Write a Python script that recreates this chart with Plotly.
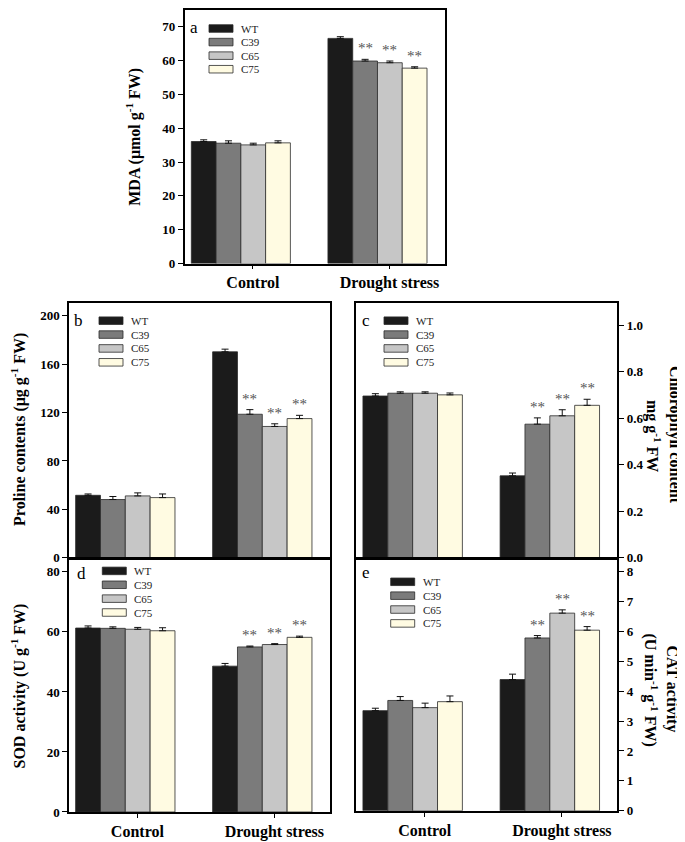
import plotly.graph_objects as go

# ---------------- data ----------------
groups = ["Control", "Drought stress"]
lines = ["WT", "C39", "C65", "C75"]
colors = ["#1b1b1b", "#7b7b7b", "#c6c6c6", "#fffbe2"]

mda_control = [36.1, 35.6, 35.1, 35.7]
mda_control_err = [0.5, 0.7, 0.5, 0.6]
mda_drought = [66.6, 59.9, 59.4, 57.8]
mda_drought_err = [0.5, 0.5, 0.5, 0.4]

proline_control = [51.6, 48.1, 51.1, 49.7]
proline_control_err = [1.1, 2.5, 2.5, 3.0]
proline_drought = [170.2, 118.6, 108.5, 115.0]
proline_drought_err = [2.2, 3.8, 2.2, 2.7]

chl_control = [0.695, 0.707, 0.707, 0.700]
chl_control_err = [0.010, 0.006, 0.006, 0.008]
chl_drought = [0.352, 0.574, 0.610, 0.655]
chl_drought_err = [0.012, 0.027, 0.026, 0.026]

sod_control = [61.3, 61.2, 60.9, 60.4]
sod_control_err = [0.7, 0.5, 0.6, 1.0]
sod_drought = [48.6, 55.0, 55.8, 58.2]
sod_drought_err = [0.9, 0.3, 0.3, 0.4]

cat_control = [3.35, 3.69, 3.45, 3.65]
cat_control_err = [0.08, 0.13, 0.15, 0.19]
cat_drought = [4.39, 5.78, 6.61, 6.04]
cat_drought_err = [0.18, 0.08, 0.11, 0.12]

# ---------------- layout helpers ----------------
W, H = 685, 842
FONT = "Liberation Serif, Times New Roman, serif"


def px(x):
    return x / W


def py(y):
    return 1 - y / H


group_pos = [0, 1]
BARGAP = 0.275
bar_w = (1 - BARGAP) / 4

panels = [
    dict(letter="a", ctrl=mda_control, ctrl_err=mda_control_err, dr=mda_drought, dr_err=mda_drought_err,
         xdom=(176.7, 436.7), ydom=(2, 258), yrange=[0, 75], dtick=10, side="left", fmt="",
         showx=True, legend=(201, 20.7, 13.7), letter_pos=(186, 20),
         titles=[("<b>MDA (μmol g<sup>-1</sup> FW)</b>", 126, 130)]),
    dict(letter="b", ctrl=proline_control, ctrl_err=proline_control_err, dr=proline_drought, dr_err=proline_drought_err,
         xdom=(61, 321.7), ydom=(298, 555), yrange=[0, 210.4], dtick=40, side="left", fmt="",
         showx=False, legend=(91, 315.7, 14), letter_pos=(70, 315),
         titles=[("<b>Proline contents (μg g<sup>-1</sup> FW)</b>", 11, 426)]),
    dict(letter="c", ctrl=chl_control, ctrl_err=chl_control_err, dr=chl_drought, dr_err=chl_drought_err,
         xdom=(348.3, 609.3), ydom=(298, 555), yrange=[0, 1.094], dtick=0.2, side="right", fmt=".1f",
         showx=False, legend=(376, 315.7, 14), letter_pos=(358, 315),
         titles=[("<b>Chlorophyll content</b>", 667, 431),
                 ("<b>mg g<sup>-1</sup> FW</b>", 645, 432)]),
    dict(letter="d", ctrl=sod_control, ctrl_err=sod_control_err, dr=sod_drought, dr_err=sod_drought_err,
         xdom=(61, 321.7), ydom=(556, 811.7), yrange=[0, 84.4], dtick=20, side="left", fmt="",
         showx=True, legend=(94.3, 568.3, 14), letter_pos=(73, 571),
         titles=[("<b>SOD activity (U g<sup>-1</sup> FW)</b>", 11, 685)]),
    dict(letter="e", ctrl=cat_control, ctrl_err=cat_control_err, dr=cat_drought, dr_err=cat_drought_err,
         xdom=(348.3, 609.3), ydom=(556, 810.5), yrange=[0, 8.43], dtick=1, side="right", fmt="",
         showx=True, legend=(382.7, 579.3, 14), letter_pos=(358, 570),
         titles=[("<b>CAT activity</b>", 664, 687),
                 ("<b>(U min<sup>-1</sup> g<sup>-1</sup> FW)</b>", 643, 688)]),
]

fig = go.Figure()
annotations = []
shapes = []
layout_axes = {}

for n, p in enumerate(panels, start=1):
    sfx = "" if n == 1 else str(n)
    xa, ya = "x" + sfx, "y" + sfx
    for i, name in enumerate(lines):
        fig.add_trace(go.Bar(
            x=group_pos,
            y=[p["ctrl"][i], p["dr"][i]],
            name=name,
            marker=dict(color=colors[i], line=dict(color="#2a2a2a", width=0.8)),
            error_y=dict(type="data", symmetric=False,
                         array=[p["ctrl_err"][i], p["dr_err"][i]],
                         arrayminus=[0, 0], color="#111", thickness=1, width=3.5),
            xaxis=xa, yaxis=ya, showlegend=False,
        ))
    # significance marks on transgenic lines under drought
    for i in range(1, 4):
        annotations.append(dict(
            x=1 + (i - 1.5) * bar_w, y=p["dr"][i] + p["dr_err"][i], xref=xa, yref=ya,
            text="**", showarrow=False, yanchor="bottom", yshift=1,
            font=dict(family=FONT, size=15, color="#555")))

    layout_axes["xaxis" + sfx] = dict(
        domain=[px(p["xdom"][0]), px(p["xdom"][1])], anchor=ya,
        range=[-0.411, 1.492], tickvals=[g + 0.088 for g in group_pos], ticktext=groups,
        showticklabels=p["showx"], ticks="outside" if p["showx"] else "", ticklen=4,
        tickcolor="black", ticklabelstandoff=0,
        tickfont=dict(family=FONT, size=16, color="black", weight="bold"),
        showline=True, linecolor="black", linewidth=1.5, mirror=True,
        showgrid=False, zeroline=False, fixedrange=True)
    layout_axes["yaxis" + sfx] = dict(
        domain=[py(p["ydom"][1]), py(p["ydom"][0])], anchor=xa, side=p["side"],
        range=p["yrange"], dtick=p["dtick"], tick0=0, tickformat=p["fmt"],
        ticks="outside", ticklen=5, tickcolor="black",
        tickfont=dict(family=FONT, size=13, color="black", weight="bold"),
        showline=True, linecolor="black", linewidth=1.5, mirror=True,
        showgrid=False, zeroline=False, fixedrange=True)

    # panel letter
    annotations.append(dict(x=px(p["letter_pos"][0]), y=py(p["letter_pos"][1]), xref="paper", yref="paper",
                            text=p["letter"], showarrow=False, xanchor="center", yanchor="middle",
                            font=dict(family=FONT, size=17, color="black")))
    # y-axis title(s)
    ang = -90 if p["side"] == "left" else 90
    for txt, tx, ty in p["titles"]:
        annotations.append(dict(x=px(tx), y=py(ty), xref="paper", yref="paper",
                                text=txt, showarrow=False, textangle=ang,
                                xanchor="center", yanchor="middle",
                                font=dict(family=FONT, size=16, color="black")))
    # legend (wide swatches like the original)
    lx, ly, step = p["legend"]
    for i, name in enumerate(lines):
        cy = ly + i * step
        shapes.append(dict(type="rect", xref="paper", yref="paper",
                           x0=px(lx), x1=px(lx + 24), y0=py(cy + 3.8), y1=py(cy - 3.8),
                           fillcolor=colors[i], line=dict(color="#2a2a2a", width=0.8)))
        annotations.append(dict(x=px(lx + 30), y=py(cy), xref="paper", yref="paper",
                                text=name, showarrow=False, xanchor="left", yanchor="middle",
                                font=dict(family=FONT, size=11, color="#222")))

fig.update_layout(
    width=W, height=H,
    margin=dict(l=0, r=0, t=0, b=0),
    paper_bgcolor="white", plot_bgcolor="white",
    barmode="group", bargap=BARGAP, bargroupgap=0,
    showlegend=False,
    annotations=annotations, shapes=shapes,
    **layout_axes,
)

fig.write_html("out.html")
